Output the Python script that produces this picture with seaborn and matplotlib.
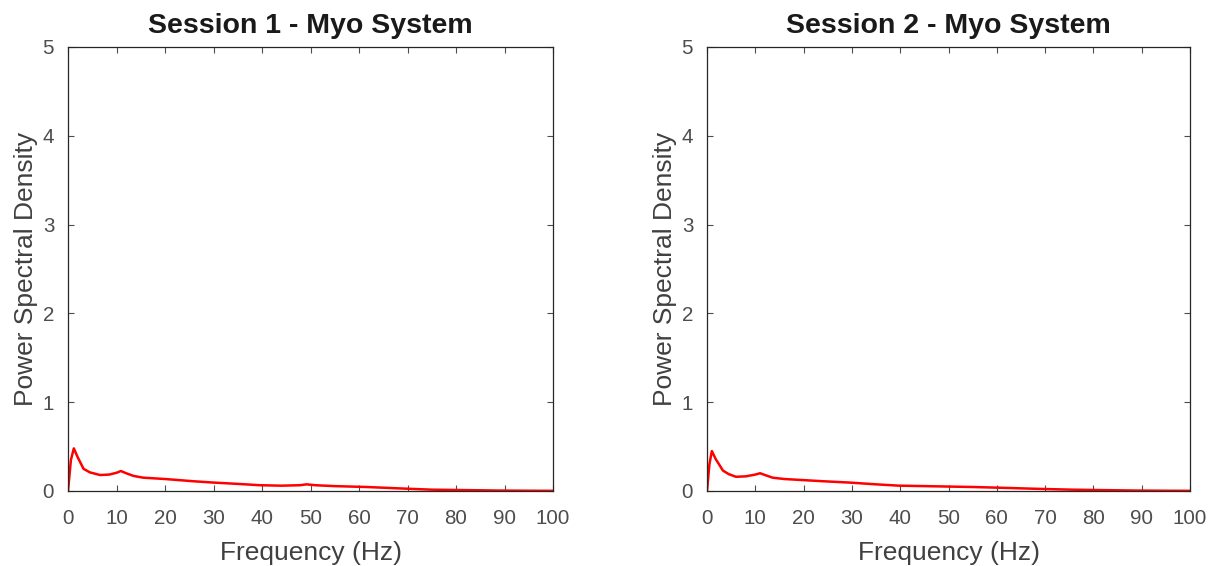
import matplotlib
matplotlib.use("Agg")
import matplotlib.pyplot as plt
import seaborn as sns
import pandas as pd

# Session 1 PSD
freq1 = [0, 0.6, 1.2, 2.0, 3.2, 4.5, 6.6, 8.5, 10.0, 10.9, 12.0, 13.5, 15.5, 20.0, 25.8, 30.0,
         35.0, 39.6, 44.0, 47.8, 49.2, 51.0, 55.0, 61.6, 68.0, 75.0, 82.0, 89.0, 95.0, 100.0]
psd1 = [0.0, 0.35, 0.48, 0.38, 0.25, 0.21, 0.18, 0.185, 0.205, 0.225, 0.2, 0.17, 0.15, 0.135, 0.11, 0.095,
        0.08, 0.065, 0.06, 0.065, 0.075, 0.065, 0.055, 0.045, 0.03, 0.015, 0.01, 0.005, 0.003, 0.002]

# Session 2 PSD
freq2 = [0, 0.5, 1.0, 1.8, 3.3, 4.5, 6.0, 8.0, 10.0, 11.0, 12.0, 13.6, 16.0, 19.2, 24.0, 29.5,
         35.0, 39.8, 45.0, 50.0, 55.0, 61.8, 68.0, 75.5, 82.0, 89.0, 95.0, 100.0]
psd2 = [0.0, 0.3, 0.45, 0.36, 0.23, 0.19, 0.16, 0.165, 0.185, 0.2, 0.18, 0.15, 0.135, 0.125, 0.11, 0.095,
        0.075, 0.06, 0.055, 0.05, 0.045, 0.035, 0.025, 0.015, 0.01, 0.005, 0.003, 0.002]

titles = ["Session 1 - Myo System", "Session 2 - Myo System"]
x_ticks = [0, 10, 20, 30, 40, 50, 60, 70, 80, 90, 100]
y_ticks = [0, 1, 2, 3, 4, 5]

sns.set_theme(style="white")
plt.rcParams["font.family"] = ["Liberation Sans", "DejaVu Sans"]

fig = plt.figure(figsize=(12.18, 5.66), dpi=100)
positions = [[68 / 1218, 75 / 566, 485 / 1218, 444 / 566],
             [707 / 1218, 75 / 566, 483 / 1218, 444 / 566]]

tick_color = "#4d4d4d"
for pos, f, p, t in zip(positions, [freq1, freq2], [psd1, psd2], titles):
    ax = fig.add_axes(pos)
    df = pd.DataFrame({"Frequency": f, "PSD": p})
    sns.lineplot(data=df, x="Frequency", y="PSD", ax=ax, color="#ff0000", linewidth=1.8)
    ax.set_xlim(0, 100)
    ax.set_ylim(0, 5)
    ax.set_xticks(x_ticks)
    ax.set_yticks(y_ticks)
    ax.tick_params(axis="both", direction="in", length=4, width=0.8, colors=tick_color,
                   labelsize=14.8, top=True, right=True, bottom=True, left=True)
    ax.tick_params(axis="x", pad=13)
    ax.tick_params(axis="y", pad=10)
    for s in ax.spines.values():
        s.set_visible(True)
        s.set_color("#262626")
        s.set_linewidth(0.9)
    ax.set_title(t, fontsize=20.5, fontweight="bold", color="#1a1a1a", pad=10)
    ax.set_xlabel("Frequency (Hz)", fontsize=19, color="#404040", labelpad=9)
    ax.set_ylabel("Power Spectral Density", fontsize=19, color="#404040", labelpad=3)
    ax.grid(False)

fig.savefig("out.png", dpi=100, facecolor="white")
